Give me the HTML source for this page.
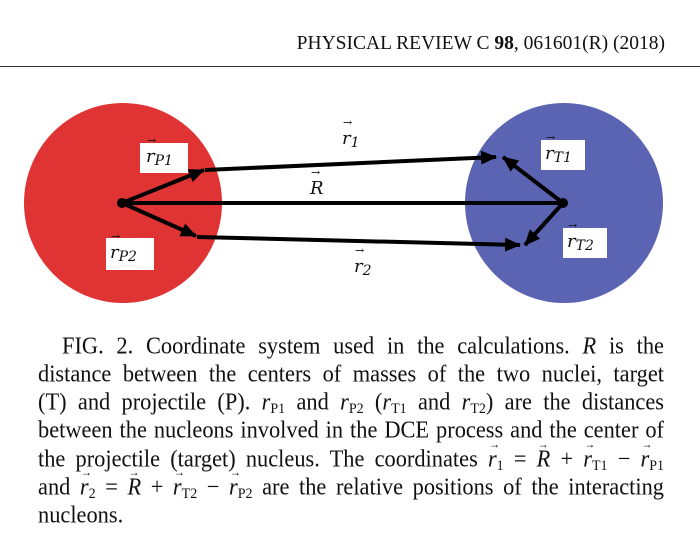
<!DOCTYPE html>
<html><head><meta charset="utf-8"><style>
body{margin:0;width:700px;height:548px;background:#fff;position:relative;overflow:hidden;font-family:"Liberation Serif",serif;color:#111}
.hdr{position:absolute;right:35px;top:33px;font-size:19.5px;white-space:nowrap}
.rule{position:absolute;left:0;top:66px;width:700px;height:1px;background:#333}
.ln{position:absolute;left:38px;width:626px;font-size:22.4px;line-height:24px;text-align:justify;text-align-last:justify;white-space:nowrap;transform:scaleY(1.08);transform-origin:0 50%}
.v{position:relative;font-style:italic}
.v:before{content:"\2192";position:absolute;left:1px;top:-12px;font-size:11px;font-style:normal}
sub{font-size:14px;vertical-align:-3px;line-height:0}
.lab{font-family:"DejaVu Serif",serif;font-style:italic;font-size:18px}
</style></head><body>
<div class="hdr">PHYSICAL REVIEW C <b>98</b>, 061601(R) (2018)</div>
<div class="rule"></div>
<svg width="700" height="548" style="position:absolute;left:0;top:0">
<defs><marker id="ah2" markerWidth="16" markerHeight="14" refX="15" refY="7" orient="auto" markerUnits="userSpaceOnUse"><path d="M0,0L16,7L0,14z" fill="#000"/></marker></defs>
<ellipse cx="123" cy="203" rx="99" ry="100" fill="#e03434"/>
<ellipse cx="564" cy="203" rx="99" ry="100" fill="#5b63b3"/>
<g stroke="#000" stroke-width="4" fill="none">
<line x1="122" y1="203" x2="563" y2="203"/>
<line x1="122" y1="203" x2="204" y2="170" marker-end="url(#ah2)"/>
<line x1="122" y1="203" x2="196" y2="236" marker-end="url(#ah2)"/>
<line x1="205" y1="170" x2="496" y2="157" marker-end="url(#ah2)"/>
<line x1="197" y1="237" x2="520" y2="245" marker-end="url(#ah2)"/>
<line x1="563" y1="203" x2="503" y2="157" marker-end="url(#ah2)"/>
<line x1="563" y1="203" x2="525" y2="245" marker-end="url(#ah2)"/>
</g>
<circle cx="122" cy="203" r="5" fill="#000"/><circle cx="563" cy="203" r="5" fill="#000"/>
<rect x="140" y="143" width="48" height="30" fill="#fff"/>
<rect x="106" y="238" width="48" height="32" fill="#fff"/>
<rect x="541" y="140" width="44" height="30" fill="#fff"/>
<rect x="563" y="228" width="44" height="30" fill="#fff"/>
</svg>
<div class="lab" style="position:absolute;left:146px;top:146px"><span class="v">r</span><sub>P1</sub></div>
<div class="lab" style="position:absolute;left:110px;top:242px"><span class="v">r</span><sub>P2</sub></div>
<div class="lab" style="position:absolute;left:545px;top:143px"><span class="v">r</span><sub>T1</sub></div>
<div class="lab" style="position:absolute;left:567px;top:231px"><span class="v">r</span><sub>T2</sub></div>
<div class="lab" style="position:absolute;left:342px;top:128px"><span class="v">r</span><sub>1</sub></div>
<div class="lab" style="position:absolute;left:310px;top:178px"><span class="v">R</span></div>
<div class="lab" style="position:absolute;left:354px;top:256px"><span class="v">r</span><sub>2</sub></div>
<div>
<div class="ln" style="top:334px;left:62px;width:602px">FIG. 2. Coordinate system used in the calculations. <i>R</i> is the</div>
<div class="ln" style="top:362px">distance between the centers of masses of the two nuclei, target</div>
<div class="ln" style="top:390px">(T) and projectile (P). <i>r</i><sub>P1</sub> and <i>r</i><sub>P2</sub> (<i>r</i><sub>T1</sub> and <i>r</i><sub>T2</sub>) are the distances</div>
<div class="ln" style="top:418px">between the nucleons involved in the DCE process and the center of</div>
<div class="ln" style="top:447px">the projectile (target) nucleus. The coordinates <span class="v">r</span><sub>1</sub> = <span class="v">R</span> + <span class="v">r</span><sub>T1</sub> − <span class="v">r</span><sub>P1</sub></div>
<div class="ln" style="top:475px">and <span class="v">r</span><sub>2</sub> = <span class="v">R</span> + <span class="v">r</span><sub>T2</sub> − <span class="v">r</span><sub>P2</sub> are the relative positions of the interacting</div>
<div class="ln" style="top:503px;text-align-last:left">nucleons.</div>
</div>
</body></html>
